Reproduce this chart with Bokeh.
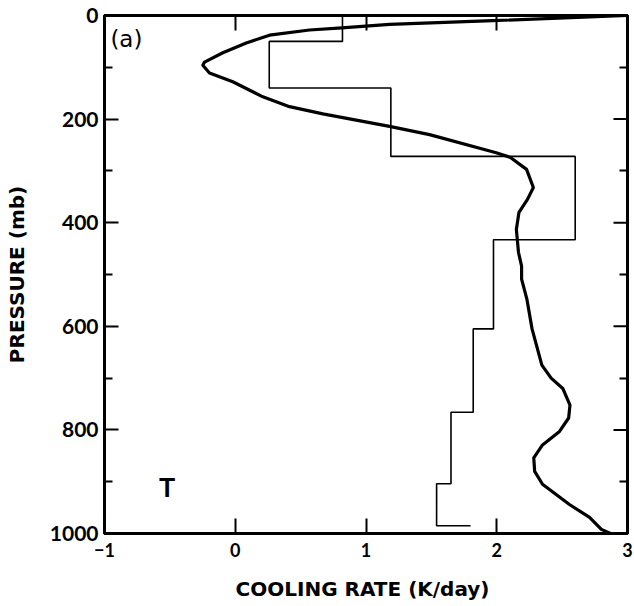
import math
from bokeh.plotting import figure
from bokeh.models import Range1d, LinearAxis, FixedTicker, Label
from bokeh.embed import file_html
from bokeh.resources import INLINE

# ---- data ----
# smooth cooling-rate profile (K/day) vs pressure (mb)
curve_rate = [3.0, 1.97, 1.18, 0.815, 0.568, 0.262, 0.084, -0.095, -0.235, -0.248,
              -0.197, -0.019, 0.211, 0.415, 0.67, 1.18, 1.486, 1.996, 2.105, 2.228,
              2.28, 2.235, 2.17, 2.15, 2.166, 2.19, 2.19, 2.23, 2.27, 2.345,
              2.416, 2.505, 2.56, 2.55, 2.48, 2.35, 2.283, 2.29, 2.35, 2.556,
              2.71, 2.80, 2.87]
curve_p = [0, 10, 17, 24, 28, 38, 53, 72, 90, 96,
           111, 128, 157, 176, 190, 214, 230, 265, 274, 297,
           332, 355, 380, 413, 457, 484, 509, 547, 605, 675,
           700, 720, 752, 777, 803, 829, 854, 880, 905, 944,
           969, 992, 1000]

# layer-mean cooling rates (histogram)
layer_edges_mb = [0, 50, 140, 272, 433, 605, 766, 904, 985]
layer_rates = [0.82, 0.26, 1.19, 2.60, 1.975, 1.82, 1.65, 1.54]
surface_rate = 1.80

x_min, x_max = -1, 3
x_ticks = [-1, 0, 1, 2, 3]
x_top_ticks = [0, 1, 2]
y_major = [0, 200, 400, 600, 800, 1000]
y_minor = [100, 300, 500, 700, 900]
y_right_major = [200, 400, 600, 800]

TICK_FONT = "Lato"
LABEL_FONT = "DejaVu Sans"

# build histogram outline from the layer values
hx, hy = [], []
for i, r in enumerate(layer_rates):
    hx += [r, r]
    hy += [layer_edges_mb[i], layer_edges_mb[i + 1]]
hx.append(surface_rate)
hy.append(layer_edges_mb[-1])

p = figure(width=634, height=606,
           x_range=Range1d(x_min, x_max), y_range=Range1d(1000, 0),
           output_backend="svg", toolbar_location=None,
           min_border_left=104, min_border_right=7,
           min_border_top=15, min_border_bottom=73)
p.xgrid.visible = False
p.ygrid.visible = False
p.outline_line_color = "black"
p.outline_line_width = 3
p.background_fill_color = "white"
p.border_fill_color = "white"

p.line(hx, hy, line_color="black", line_width=1.6)
p.line(curve_rate, curve_p, line_color="black", line_width=3.2,
       line_join="round")


def style(ax):
    ax.axis_line_width = 3
    ax.axis_line_color = "black"
    ax.major_tick_line_width = 2
    ax.minor_tick_line_width = 2
    ax.major_tick_out = 0
    ax.minor_tick_out = 0
    ax.major_label_text_font = TICK_FONT
    ax.major_label_text_font_style = "bold"
    ax.major_label_text_color = "black"
    ax.axis_label_text_font = LABEL_FONT
    ax.axis_label_text_font_style = "bold"
    ax.axis_label_text_color = "black"


# bottom axis
xa = p.xaxis[0]
style(xa)
xa.ticker = FixedTicker(ticks=x_ticks)
xa.major_label_overrides = {-1: "\u22121"}
xa.axis_label = "COOLING RATE  (K/day)"
xa.major_tick_in = 15
xa.major_label_text_font_size = "18px"
xa.major_label_standoff = 9
xa.axis_label_text_font_size = "20px"
xa.axis_label_standoff = 17

# left axis
ya = p.yaxis[0]
style(ya)
ya.ticker = FixedTicker(ticks=y_major, minor_ticks=y_minor)
ya.axis_label = "PRESSURE (mb)"
ya.major_tick_in = 14
ya.minor_tick_in = 8
ya.major_label_text_font_size = "21px"
ya.major_label_standoff = 6
ya.axis_label_text_font_size = "20px"
ya.axis_label_standoff = 18

# right axis: tick marks only (minor ticks carry no labels)
ra = LinearAxis(ticker=FixedTicker(ticks=[], minor_ticks=y_minor))
style(ra)
ra.minor_tick_in = 8
ra.major_label_standoff = 0
p.add_layout(ra, "right")
# longer inward ticks on the right at the labelled pressures
p.ray(x=[x_max] * len(y_right_major), y=y_right_major, length=14,
      length_units="screen", angle=math.pi, line_color="black", line_width=2)

# top axis: tick marks only
ta = LinearAxis(ticker=FixedTicker(ticks=[], minor_ticks=x_top_ticks))
style(ta)
ta.minor_tick_in = 15
ta.major_label_standoff = 0
p.add_layout(ta, "above")

p.add_layout(Label(x=-0.955, y=46, text="(a)", text_font=LABEL_FONT,
                   text_font_size="23px", text_baseline="middle",
                   text_align="left", text_color="black"))
p.add_layout(Label(x=-0.522, y=910, text="T", text_font=TICK_FONT,
                   text_font_size="27px", text_font_style="bold",
                   text_baseline="middle", text_align="center",
                   text_color="black"))

open("out.html", "w").write(file_html(p, INLINE))
